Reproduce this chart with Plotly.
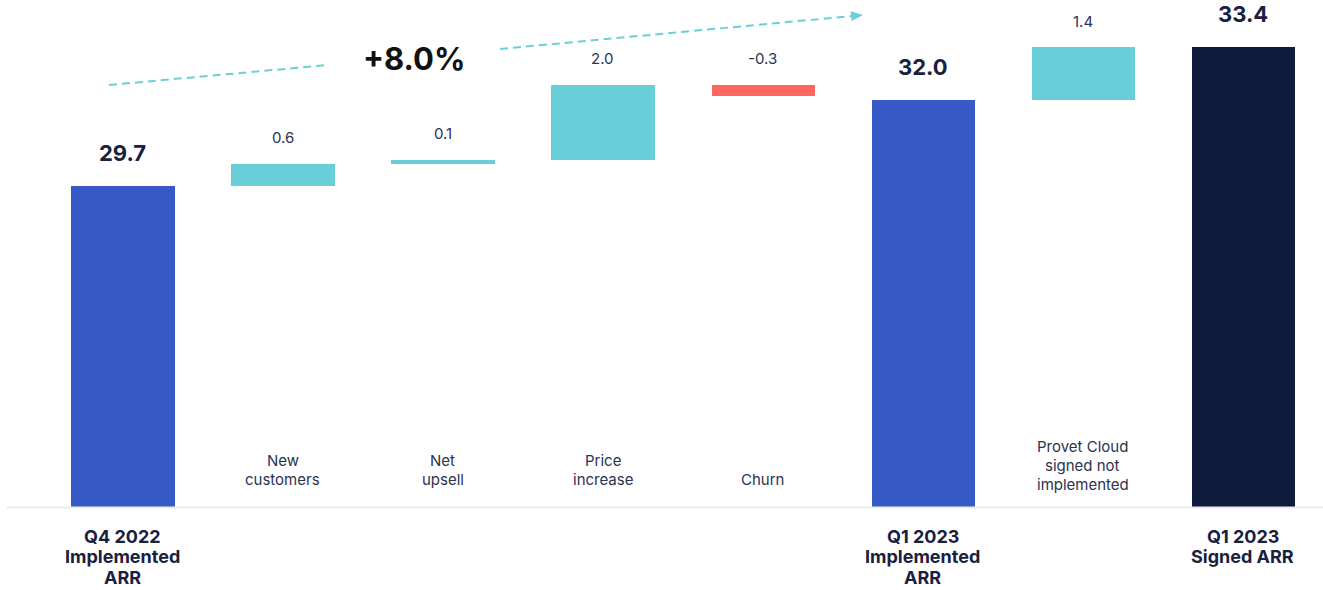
import math
import plotly.graph_objects as go

# ---- data ----
categories = [
    "Q4 2022<br>Implemented<br>ARR",
    "New<br>customers",
    "Net<br>upsell",
    "Price<br>increase",
    "Churn",
    "Q1 2023<br>Implemented<br>ARR",
    "Provet Cloud<br>signed not<br>implemented",
    "Q1 2023<br>Signed ARR",
]
values = [29.7, 0.6, 0.1, 2.0, -0.3, 32.0, 1.4, 33.4]
measures = ["total", "relative", "relative", "relative", "relative", "total", "relative", "total"]
value_labels = ["29.7", "0.6", "0.1", "2.0", "-0.3", "32.0", "1.4", "33.4"]
growth_label = "+8.0%"

# ---- styles ----
W, H = 1323, 590
PLOT_BOTTOM = 507  # pixel y of plot-area bottom
C_BLUE = "#3659C6"
C_NAVY = "#0E1B3D"
C_TEAL = "#68CED7"
C_RED = "#FF675D"
C_TEXT = "#18213F"
C_TEXT_LIGHT = "#2B3252"
FONT = "Inter"

# running totals -> bar bases/heights
bases, heights, colors = [], [], []
running = 0.0
for i, (v, m) in enumerate(zip(values, measures)):
    if m == "total":
        bases.append(0.0)
        heights.append(v)
        running = v
        colors.append(C_NAVY if i == len(values) - 1 else C_BLUE)
    else:
        bases.append(running)
        heights.append(v)
        running += v
        colors.append(C_TEAL if v >= 0 else C_RED)

fig = go.Figure(
    go.Bar(
        x=categories,
        y=heights,
        base=bases,
        marker=dict(color=colors, line=dict(width=0)),
        width=0.647,
        hoverinfo="skip",
    )
)

def px_x(p):
    return p / W

def px_y(p):
    return (PLOT_BOTTOM - p) / PLOT_BOTTOM

annotations = []
for i, (cat, v, m, lab) in enumerate(zip(categories, values, measures, value_labels)):
    top = v if m == "total" else max(bases[i], bases[i] + v)
    lines = cat.split("<br>")
    if m == "total":
        annotations.append(dict(x=cat, y=top, xref="x", yref="y", text=f"<b>{lab}</b>",
                                showarrow=False, yanchor="middle", yshift=33,
                                font=dict(family=FONT, size=22, color=C_TEXT)))
        for j, ln in enumerate(lines):
            annotations.append(dict(x=cat, y=px_y(536 + 20.5 * j), xref="x", yref="paper",
                                    text=f"<b>{ln}</b>", showarrow=False, yanchor="middle",
                                    borderpad=0,
                                    font=dict(family=FONT, size=18, color=C_TEXT)))
    else:
        annotations.append(dict(x=cat, y=top, xref="x", yref="y", text=lab,
                                showarrow=False, yanchor="middle", yshift=26,
                                font=dict(family=FONT, size=15, color=C_TEXT_LIGHT)))
        n = len(lines)
        bottom_center = 484 if n == 3 else 479.5
        for j, ln in enumerate(lines):
            annotations.append(dict(x=cat, y=px_y(bottom_center - 19 * (n - 1 - j)),
                                    xref="x", yref="paper", text=ln, showarrow=False,
                                    yanchor="middle",
                                    font=dict(family=FONT, size=15, color=C_TEXT_LIGHT)))

annotations.append(dict(x=px_x(414), y=px_y(58), xref="paper", yref="paper",
                        text=f"<b>{growth_label}</b>", showarrow=False,
                        xanchor="center", yanchor="middle",
                        font=dict(family=FONT, size=31, color="#111111")))

shapes = []
# baseline
shapes.append(dict(type="line", xref="paper", yref="paper",
                   x0=px_x(7), x1=px_x(1323), y0=px_y(507.5), y1=px_y(507.5),
                   line=dict(color="#ECECEC", width=2)))
# dashed growth lines
DASH_COLOR = "#6ACFD8"
shapes.append(dict(type="line", xref="paper", yref="paper",
                   x0=px_x(109), y0=px_y(85), x1=px_x(328), y1=px_y(65),
                   line=dict(color=DASH_COLOR, width=2, dash="8px,5px")))
shapes.append(dict(type="line", xref="paper", yref="paper",
                   x0=px_x(500), y0=px_y(49), x1=px_x(852), y1=px_y(16),
                   line=dict(color=DASH_COLOR, width=2, dash="8px,5px")))
# arrow head
tipx, tipy = 863, 15
dx, dy = 863 - 500, 15 - 49
L = math.hypot(dx, dy)
ux, uy = dx / L, dy / L
bx, by = tipx - 12 * ux, tipy - 12 * uy
nx, ny = -uy, ux
p1 = (bx + 5 * nx, by + 5 * ny)
p2 = (bx - 5 * nx, by - 5 * ny)
path = "M {} {} L {} {} L {} {} Z".format(
    px_x(tipx), px_y(tipy), px_x(p1[0]), px_y(p1[1]), px_x(p2[0]), px_y(p2[1]))
shapes.append(dict(type="path", xref="paper", yref="paper", path=path,
                   fillcolor=DASH_COLOR, line=dict(width=0)))

fig.update_layout(
    width=W, height=H,
    margin=dict(l=0, r=0, t=0, b=H - PLOT_BOTTOM, pad=0),
    paper_bgcolor="white", plot_bgcolor="white",
    showlegend=False,
    bargap=0,
    xaxis=dict(domain=[42.5 / W, 1], showticklabels=False, showgrid=False,
               zeroline=False, showline=False, ticks="", range=[-0.5, 7.5]),
    yaxis=dict(range=[21.17, 34.65], showticklabels=False, showgrid=False,
               zeroline=False, showline=False, ticks=""),
    annotations=annotations,
    shapes=shapes,
    font=dict(family=FONT),
)

fig.write_html("out.html")
